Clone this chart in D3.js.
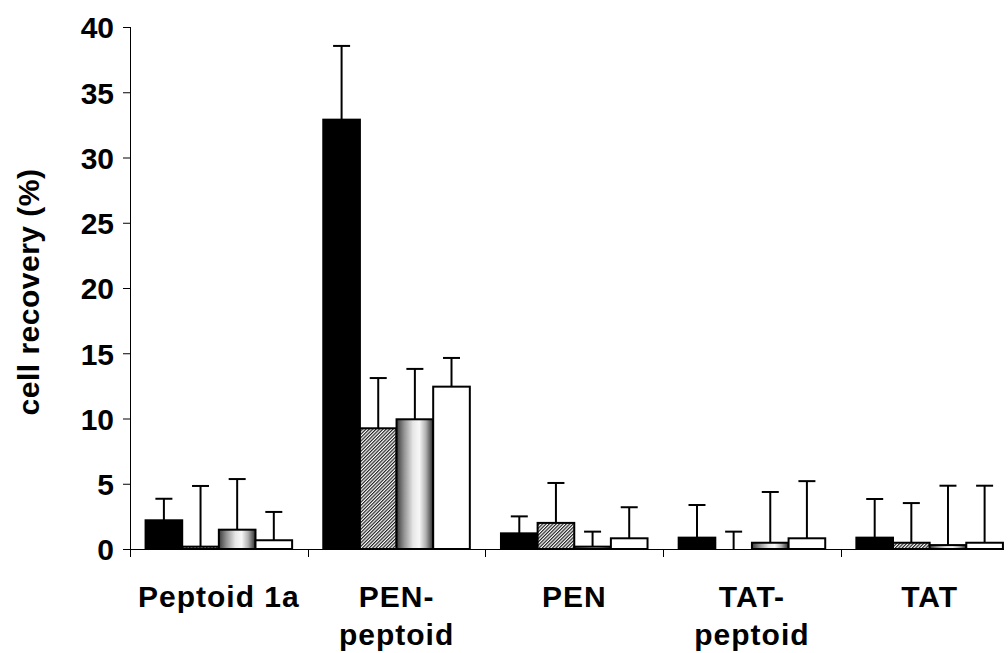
<!DOCTYPE html>
<html><head><meta charset="utf-8">
<script src="https://cdn.jsdelivr.net/npm/d3@7"></script>
<style>html,body{margin:0;padding:0;background:#fff;}svg{display:block;}</style>
</head><body>
<svg id="chart" width="1008" height="653"></svg>
<script>
const categories = ["Peptoid 1a", "PEN-peptoid", "PEN", "TAT-peptoid", "TAT"];
const categoryLines = [["Peptoid 1a"], ["PEN-", "peptoid"], ["PEN"], ["TAT-", "peptoid"], ["TAT"]];
const seriesNames = ["s1", "s2", "s3", "s4"];
const s1Values = [2.2, 32.9, 1.2, 0.87, 0.87];
const s1Errors = [1.65, 5.65, 1.3, 2.5, 2.96];
const s2Values = [0.18, 9.25, 2.0, 0.0, 0.48];
const s2Errors = [4.65, 3.85, 3.06, 1.33, 3.04];
const s3Values = [1.48, 9.94, 0.18, 0.48, 0.3];
const s3Errors = [3.88, 3.86, 1.15, 3.89, 4.55];
const s4Values = [0.67, 12.44, 0.82, 0.82, 0.48];
const s4Errors = [2.17, 2.2, 2.38, 4.38, 4.37];
const yTicks = [0, 5, 10, 15, 20, 25, 30, 35, 40];
const yTitle = "cell recovery (%)";

const values = [s1Values, s2Values, s3Values, s4Values];
const errors = [s1Errors, s2Errors, s3Errors, s4Errors];

const svg = d3.select("#chart");
const defs = svg.append("defs");
const hatch = defs.append("pattern").attr("id", "hatch").attr("patternUnits", "userSpaceOnUse")
  .attr("width", 2.4).attr("height", 2.4).attr("patternTransform", "rotate(45)");
hatch.append("rect").attr("width", 2.4).attr("height", 2.4).attr("fill", "#fff");
hatch.append("rect").attr("width", 1.2).attr("height", 2.4).attr("fill", "#222");
const grad = defs.append("linearGradient").attr("id", "cyl").attr("x1", "0").attr("x2", "1").attr("y1", "0").attr("y2", "0");
[[0, "#3a3a3a"], [0.2, "#909090"], [0.45, "#e6e6e6"], [0.62, "#f8f8f8"], [0.8, "#b0b0b0"], [1, "#2a2a2a"]]
  .forEach(([o, c]) => grad.append("stop").attr("offset", o).attr("stop-color", c));
const fills = ["#000", "url(#hatch)", "url(#cyl)", "#fff"];

const plotLeft = 130, groupW = 177.7, plotBottom = 549, plotTop = 27;
const x0 = d3.scaleBand().domain(categories).range([plotLeft, plotLeft + groupW * categories.length]).paddingInner(0).paddingOuter(0);
const x1 = d3.scaleBand().domain(seriesNames).range([0, x0.bandwidth()]).paddingInner(0).paddingOuter(0.425);
const y = d3.scaleLinear().domain([0, 40]).range([plotBottom, plotTop]);

const font = "'Liberation Sans', Arial, sans-serif";
const fs = "30px";

// bars
categories.forEach((cat, ci) => {
  seriesNames.forEach((s, si) => {
    const v = values[si][ci];
    const bx = x0(cat) + x1(s);
    const bw = x1.bandwidth();
    const g = svg.append("g");
    const cx = bx + bw / 2;
    const et = y(v + errors[si][ci]);
    g.append("line").attr("x1", cx).attr("x2", cx).attr("y1", y(v)).attr("y2", et)
      .attr("stroke", "#000").attr("stroke-width", 2);
    g.append("line").attr("x1", cx - 8.5).attr("x2", cx + 8.5).attr("y1", et).attr("y2", et)
      .attr("stroke", "#000").attr("stroke-width", 2);
    if (v > 0) {
      g.append("rect").attr("x", bx).attr("y", y(v)).attr("width", bw).attr("height", y(0) - y(v))
        .attr("fill", fills[si]).attr("stroke", "#000").attr("stroke-width", 2);
    }
  });
});

// y axis
const yAxis = d3.axisLeft(y).tickValues(yTicks).tickSize(7).tickFormat(d3.format("d"));
const yg = svg.append("g").attr("transform", `translate(${plotLeft},0)`).call(yAxis);
yg.select(".domain").attr("d", `M0.5,${plotTop}V${plotBottom}`).attr("stroke", "#000");
yg.selectAll(".tick line").attr("stroke", "#000");
yg.selectAll(".tick text").attr("x", -16).attr("dy", "0.36em")
  .style("font-family", font).style("font-size", fs).style("font-weight", "bold").attr("fill", "#000");

// x axis
const xg = svg.append("g");
xg.append("line").attr("x1", plotLeft).attr("x2", 1004).attr("y1", plotBottom + 0.5).attr("y2", plotBottom + 0.5).attr("stroke", "#000");
const bounds = categories.map(c => x0(c));
xg.selectAll("line.tk").data(bounds).enter().append("line").attr("class", "tk")
  .attr("x1", d => Math.round(d) + 0.5).attr("x2", d => Math.round(d) + 0.5)
  .attr("y1", plotBottom).attr("y2", plotBottom + 8).attr("stroke", "#000");
categories.forEach((cat, ci) => {
  const t = svg.append("text").attr("x", x0(cat) + x0.bandwidth() / 2).attr("y", 607)
    .attr("text-anchor", "middle").style("font-family", font).style("font-size", fs).style("font-weight", "bold")
    .style("letter-spacing", "1px");
  categoryLines[ci].forEach((ln, li) => {
    t.append("tspan").attr("x", x0(cat) + x0.bandwidth() / 2).attr("dy", li === 0 ? 0 : 38).text(ln);
  });
});

svg.append("text").attr("transform", `translate(39,${(plotTop + plotBottom) / 2 + 4}) rotate(-90)`)
  .attr("text-anchor", "middle").style("font-family", font).style("font-size", fs).style("font-weight", "bold")
  .style("letter-spacing", "0.5px")
  .text(yTitle);
</script>
</body></html>
